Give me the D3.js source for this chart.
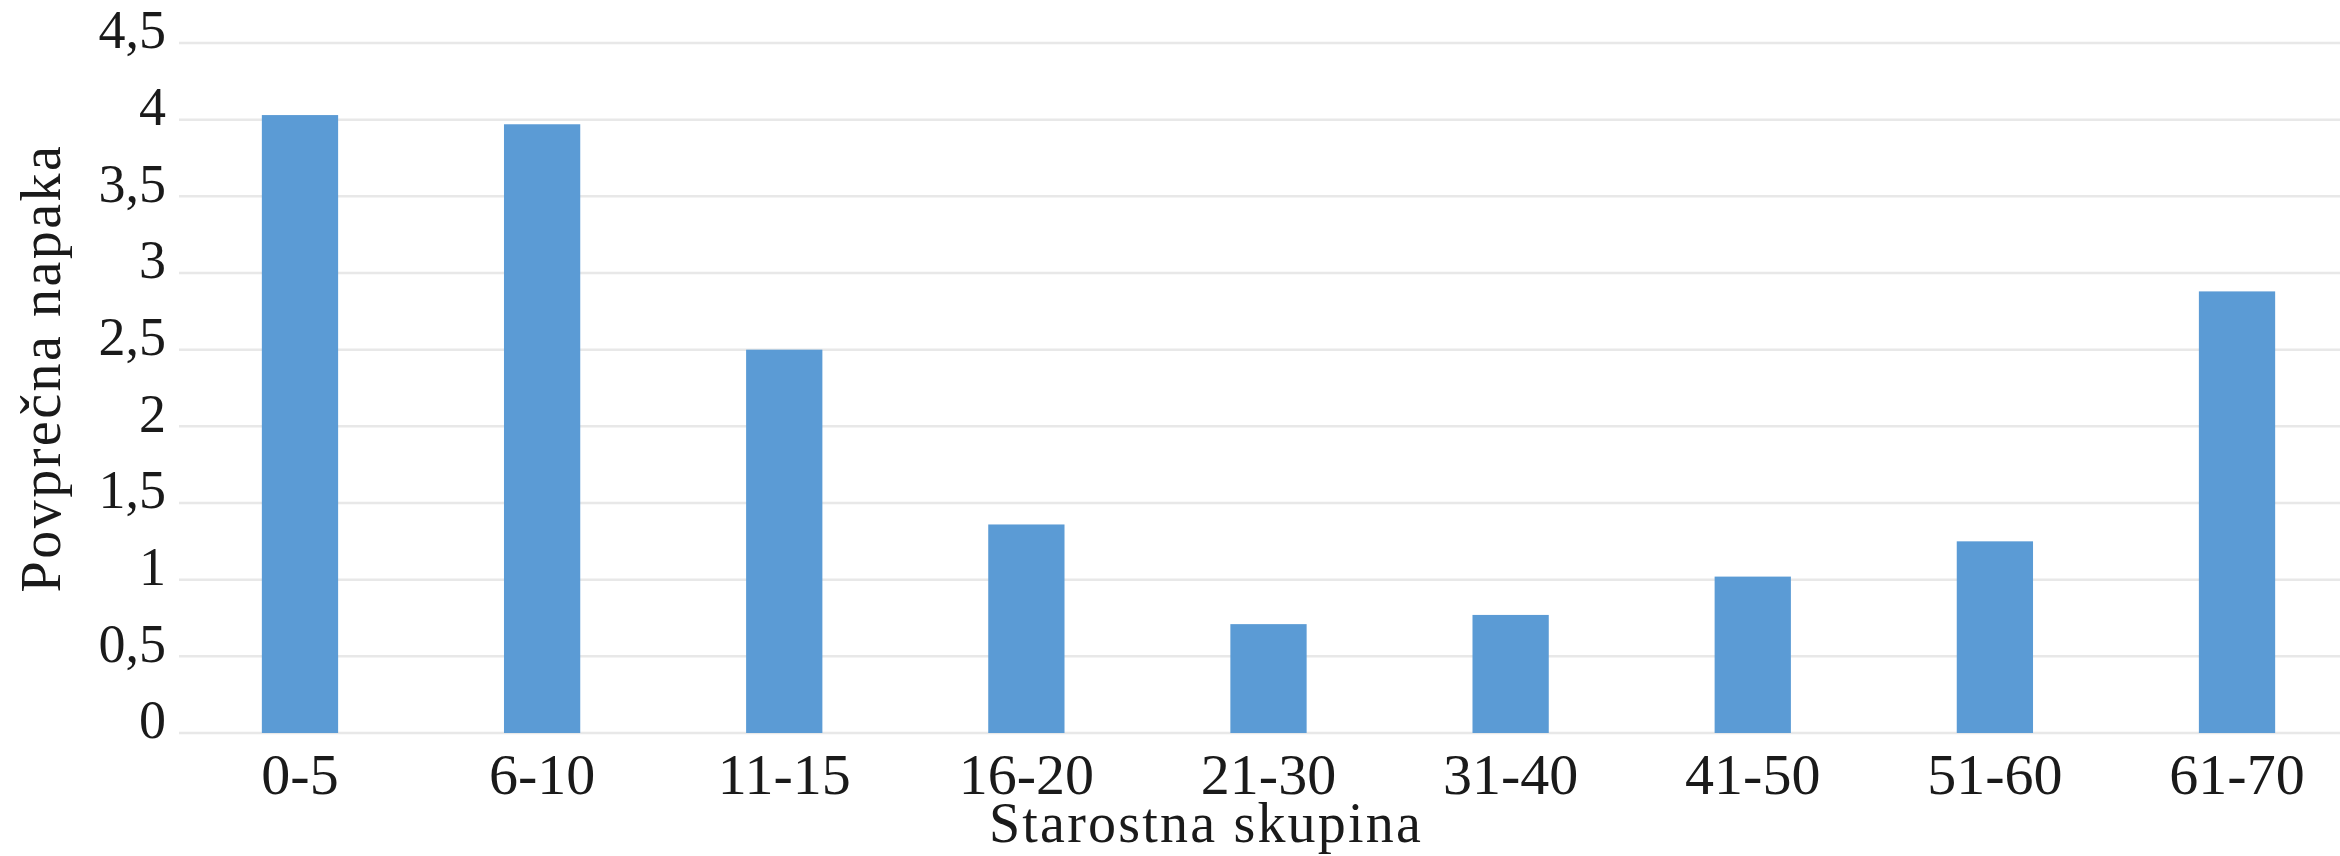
<!DOCTYPE html>
<html>
<head>
<meta charset="utf-8">
<script src="https://cdn.jsdelivr.net/npm/d3@7"></script>
<style>
  body { margin: 0; background: #fff; }
  text { font-family: "Liberation Serif", serif; fill: #1a1a1a; }
</style>
</head>
<body>
<script>

var groups = ["0-5", "6-10", "11-15", "16-20", "21-30", "31-40", "41-50", "51-60", "61-70"];
var avgError = [4.03, 3.97, 2.5, 1.36, 0.71, 0.77, 1.02, 1.25, 2.88];
var yTicks = [0, 0.5, 1, 1.5, 2, 2.5, 3, 3.5, 4, 4.5];

var W = 2340, H = 856;
var margin = { top: 43, right: 0, bottom: 123, left: 179 };

var svg = d3.select("body").append("svg")
    .attr("width", W)
    .attr("height", H);

// bands are a bit wider than the plot, the last one runs past the edge
var x = d3.scaleBand()
    .domain(groups)
    .range([margin.left + 9, W + 9])
    .paddingInner(0.685)
    .paddingOuter(0.305);

var y = d3.scaleLinear()
    .domain([0, 4.5])
    .range([H - margin.bottom, margin.top]);

// grid lines
svg.append("g")
    .selectAll("line")
    .data(yTicks)
    .enter()
    .append("line")
    .attr("x1", margin.left)
    .attr("x2", W - margin.right)
    .attr("y1", function(d){ return y(d); })
    .attr("y2", function(d){ return y(d); })
    .attr("stroke", "#e8e8e8")
    .attr("stroke-width", 2.5);

// y tick labels
svg.append("g")
    .selectAll("text")
    .data(yTicks)
    .enter()
    .append("text")
    .attr("x", 166)
    .attr("y", function(d){ return y(d); })
    .attr("dy", "0.1em")
    .attr("text-anchor", "end")
    .style("font-size", "54px")
    .text(function(d){ return String(d).replace(".", ","); });

// bars
svg.append("g")
    .selectAll("rect")
    .data(avgError)
    .enter()
    .append("rect")
    .attr("x", function(d, i){ return x(groups[i]); })
    .attr("width", x.bandwidth())
    .attr("y", function(d){ return y(d); })
    .attr("height", function(d){ return y(0) - y(d); })
    .attr("fill", "#5b9bd5");

// x tick labels
svg.append("g")
    .selectAll("text")
    .data(groups)
    .enter()
    .append("text")
    .attr("x", function(d){ return x(d) + x.bandwidth() / 2; })
    .attr("y", 794)
    .attr("text-anchor", "middle")
    .style("font-size", "58px")
    .text(function(d){ return d; });

// axis titles
svg.append("text")
    .attr("x", 1206)
    .attr("y", 842)
    .attr("text-anchor", "middle")
    .style("font-size", "56px")
    .style("letter-spacing", "2.2px")
    .text("Starostna skupina");

svg.append("text")
    .attr("transform", "translate(60," + 368 + ") rotate(-90)")
    .attr("text-anchor", "middle")
    .style("font-size", "56px")
    .style("letter-spacing", "2.5px")
    .text("Povprečna napaka");

</script>
</body>
</html>
